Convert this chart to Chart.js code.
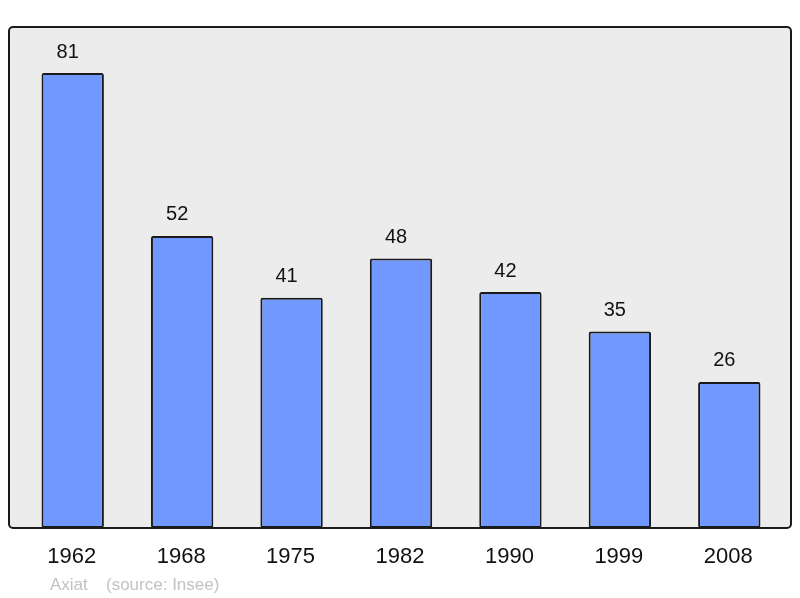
<!DOCTYPE html>
<html>
<head>
<meta charset="utf-8">
<script src="https://cdn.jsdelivr.net/npm/chart.js@4/dist/chart.umd.min.js"></script>
<style>
  html, body { margin: 0; padding: 0; background: #ffffff; }
  #wrap { width: 800px; height: 598px; position: relative; }
</style>
</head>
<body>
<div id="wrap"><canvas id="popChart" width="800" height="598"></canvas></div>
<script>
/* data */
const years  = ['1962', '1968', '1975', '1982', '1990', '1999', '2008'];
const values = [81, 52, 41, 48, 42, 35, 26];
const author = 'Axiat';
const source = '(source: Insee)';

const FONT = '"Liberation Sans", Arial, sans-serif';

/* frame, value labels and year labels */
const decorPlugin = {
    id: 'decor',
    beforeDatasetsDraw(chart) {
        const ctx = chart.ctx;
        ctx.save();
        ctx.fillStyle = '#ececec';
        ctx.beginPath();
        ctx.roundRect(9, 27, 782, 501, 4);
        ctx.fill();
        ctx.restore();
    },
    afterDatasetsDraw(chart) {
        const ctx = chart.ctx;
        const meta = chart.getDatasetMeta(0);
        const xScale = chart.scales.x;

        ctx.save();
        ctx.lineWidth = 2;
        ctx.strokeStyle = '#1a1a1a';
        ctx.beginPath();
        ctx.roundRect(9, 27, 782, 501, 4);
        ctx.stroke();

        ctx.fillStyle = '#111';
        ctx.textAlign = 'center';
        ctx.textBaseline = 'middle';
        ctx.font = '20px ' + FONT;
        meta.data.forEach((bar, i) => {
            ctx.fillText(String(values[i]), bar.x - 5, bar.y - 21);
        });

        ctx.font = '22px ' + FONT;
        years.forEach((y, i) => {
            ctx.fillText(y, xScale.getPixelForValue(i) - 1, 557);
        });

        ctx.fillStyle = '#c2c2c2';
        ctx.textAlign = 'left';
        ctx.font = '17px ' + FONT;
        ctx.fillText(author, 50, 585);
        ctx.fillText(source, 106, 585);
        ctx.restore();
    }
};

new Chart(document.getElementById('popChart').getContext('2d'), {
    type: 'bar',
    data: {
        labels: years,
        datasets: [{
            data: values,
            backgroundColor: '#7098ff',
            borderColor: '#1a1a1a',
            borderWidth: 2,
            borderRadius: 2,
            borderSkipped: false,
            barPercentage: 0.57,
            categoryPercentage: 1
        }]
    },
    options: {
        responsive: false,
        animation: false,
        layout: { padding: { left: 18, right: 16, top: 27, bottom: 70 } },
        scales: {
            x: { display: false, grid: { display: false } },
            y: { display: false, min: 0, max: 89.2, grid: { display: false } }
        },
        plugins: {
            legend: { display: false },
            tooltip: { enabled: false }
        }
    },
    plugins: [decorPlugin]
});
</script>
</body>
</html>
